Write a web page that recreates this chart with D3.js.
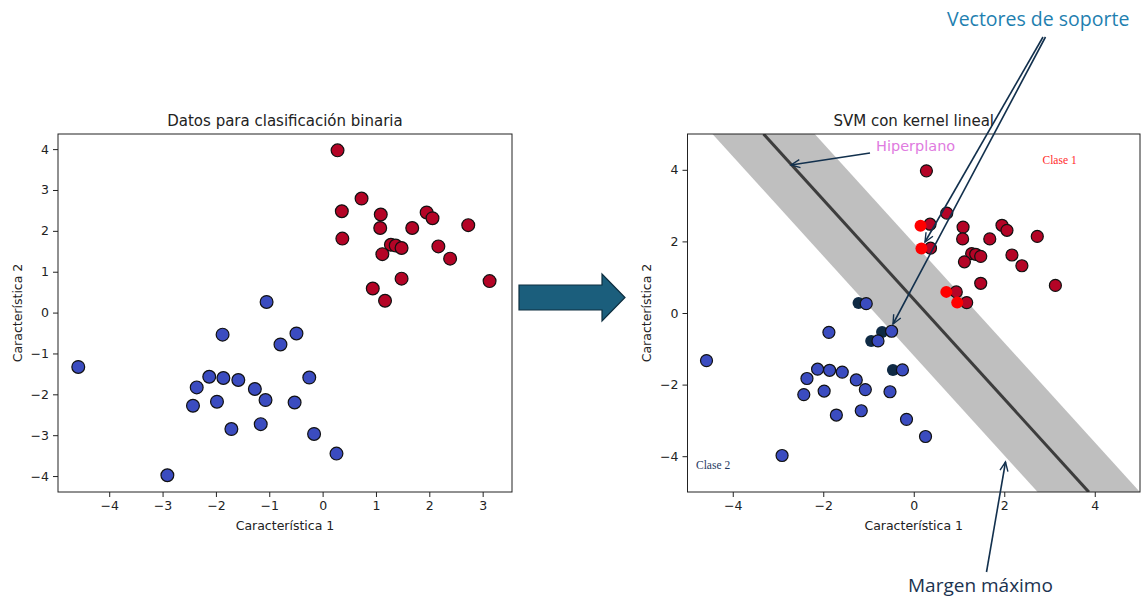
<!DOCTYPE html>
<html>
<head>
<meta charset="utf-8">
<script src="https://cdn.jsdelivr.net/npm/d3@7"></script>
<style>
  body { margin: 0; background: #fff; }
  svg { display: block; }
  .tick text { font-family: "DejaVu Sans", sans-serif; font-size: 12.5px; fill: #222; }
  .tick line { stroke: #222; }
</style>
</head>
<body>
<div id="chart"></div>
<script>
// class 1 (red) and class 2 (blue) points, same data in both panels
const class1X = [0.28, 0.73, 0.36, 1.09, 1.08, 0.37, 1.68, 1.95, 2.06, 2.73, 1.28, 1.37, 1.48, 1.12, 2.17, 2.39, 1.48, 0.94, 1.17, 3.13];
const class1Y = [3.97, 2.79, 2.48, 2.40, 2.07, 1.81, 2.07, 2.45, 2.31, 2.14, 1.66, 1.64, 1.58, 1.43, 1.62, 1.32, 0.83, 0.59, 0.29, 0.77];
const class2X = [-4.58, -1.05, -1.875, -0.49, -0.79, -2.125, -1.86, -1.58, -2.36, -1.27, -0.25, -2.43, -1.98, -1.07, -0.525, -1.71, -1.16, -0.16, 0.26, -2.91];
const class2Y = [-1.33, 0.26, -0.54, -0.51, -0.78, -1.57, -1.60, -1.65, -1.83, -1.87, -1.59, -2.28, -2.18, -2.14, -2.20, -2.85, -2.73, -2.97, -3.45, -3.98];

// highlighted support vectors (right panel)
const svRedX = [0.15, 0.17, 0.72, 0.96];
const svRedY = [2.44, 1.80, 0.59, 0.29];
const svNavyX = [-1.22, -0.70, -0.94, -0.46];
const svNavyY = [0.28, -0.53, -0.78, -1.59];

// hyperplane w.x + b = 0, margin at +-1
const svmW = [0.885, 0.636];
const svmB = -0.243;

const leftXTicks = [-4, -3, -2, -1, 0, 1, 2, 3];
const leftYTicks = [-4, -3, -2, -1, 0, 1, 2, 3, 4];
const rightXTicks = [-4, -2, 0, 2, 4];
const rightYTicks = [-4, -2, 0, 2, 4];

const width = 1141;
const height = 599;

const svg = d3.select("#chart")
  .append("svg")
  .attr("width", width)
  .attr("height", height);

const defs = svg.append("defs");
defs.append("marker")
  .attr("id", "head")
  .attr("viewBox", "-1 -6 12 12")
  .attr("markerWidth", 12)
  .attr("markerHeight", 12)
  .attr("markerUnits", "userSpaceOnUse")
  .attr("refX", 9)
  .attr("refY", 0)
  .attr("orient", "auto")
  .append("path")
  .attr("d", "M0,-4L9,0L0,4")
  .attr("fill", "none")
  .attr("stroke", "#12304d")
  .attr("stroke-width", 1.4);

const pts1 = class1X.map((x, i) => ({x, y: class1Y[i]}));
const pts2 = class2X.map((x, i) => ({x, y: class2Y[i]}));
const svRed = svRedX.map((x, i) => ({x, y: svRedY[i]}));
const svNavy = svNavyX.map((x, i) => ({x, y: svNavyY[i]}));

function panel(opts) {
  const {x, y, xTicks, yTicks, title, id} = opts;
  const g = svg.append("g");
  const [x0, x1] = x.range();
  const [y1, y0] = y.range();

  g.append("clipPath")
    .attr("id", id)
    .append("rect")
    .attr("x", x0).attr("y", y0)
    .attr("width", x1 - x0).attr("height", y1 - y0);

  const plot = g.append("g").attr("clip-path", `url(#${id})`);

  const xAxis = g.append("g")
    .attr("transform", `translate(0,${y1})`)
    .call(d3.axisBottom(x).tickValues(xTicks).tickSize(5).tickPadding(4));
  xAxis.select(".domain").remove();

  const yAxis = g.append("g")
    .attr("transform", `translate(${x0},0)`)
    .call(d3.axisLeft(y).tickValues(yTicks).tickSize(5).tickPadding(4));
  yAxis.select(".domain").remove();

  g.append("text")
    .attr("x", (x0 + x1) / 2)
    .attr("y", 126)
    .attr("text-anchor", "middle")
    .attr("font-family", "DejaVu Sans, sans-serif")
    .attr("font-size", 15)
    .attr("fill", "#222")
    .text(title);

  g.append("text")
    .attr("x", (x0 + x1) / 2)
    .attr("y", 530)
    .attr("text-anchor", "middle")
    .attr("font-family", "DejaVu Sans, sans-serif")
    .attr("font-size", 12.5)
    .attr("fill", "#222")
    .text("Característica 1");

  g.append("text")
    .attr("transform", `translate(${opts.ylabelX},${(y0 + y1) / 2}) rotate(-90)`)
    .attr("text-anchor", "middle")
    .attr("dy", "0.35em")
    .attr("font-family", "DejaVu Sans, sans-serif")
    .attr("font-size", 12.5)
    .attr("fill", "#222")
    .text("Característica 2");

  return {g, plot, frame: () => g.append("rect")
    .attr("x", x0).attr("y", y0)
    .attr("width", x1 - x0).attr("height", y1 - y0)
    .attr("fill", "none")
    .attr("stroke", "#222")
    .attr("stroke-width", 1)};
}

function dots(sel, data, x, y, r, fill, stroke) {
  sel.append("g")
    .selectAll("circle")
    .data(data)
    .join("circle")
    .attr("cx", d => x(d.x))
    .attr("cy", d => y(d.y))
    .attr("r", r)
    .attr("fill", fill)
    .attr("stroke", stroke)
    .attr("stroke-width", stroke === "none" ? 0 : 1.2);
}

// left panel
const xL = d3.scaleLinear().domain([-4.96, 3.55]).range([58, 512]);
const yL = d3.scaleLinear().domain([-4.39, 4.37]).range([492, 134]);
const left = panel({x: xL, y: yL, xTicks: leftXTicks, yTicks: leftYTicks,
  title: "Datos para clasificación binaria", id: "clipL", ylabelX: 17.5});
dots(left.plot, pts2, xL, yL, 6.4, "#3b4cc0", "#111");
dots(left.plot, pts1, xL, yL, 6.4, "#b40426", "#111");
left.frame();

// right panel
const xR = d3.scaleLinear().domain([-5, 5]).range([687.5, 1140]);
const yR = d3.scaleLinear().domain([-5, 5]).range([492, 134]);
const right = panel({x: xR, y: yR, xTicks: rightXTicks, yTicks: rightYTicks,
  title: "SVM con kernel lineal", id: "clipR", ylabelX: 646.5});

const lineY = (xv, level) => (level - svmB - svmW[0] * xv) / svmW[1];
const xs = [-8, 8];
const band = xs.map(v => [xR(v), yR(lineY(v, 1))])
  .concat(xs.slice().reverse().map(v => [xR(v), yR(lineY(v, -1))]));

right.plot.append("path")
  .attr("d", d3.line()(band) + "Z")
  .attr("fill", "#bfbfbf");

right.plot.append("path")
  .attr("d", d3.line()([[xR(-3.32), yR(lineY(-3.32, 0))], [xR(3.87), yR(lineY(3.87, 0))]]))
  .attr("stroke", "#3d3d3d")
  .attr("stroke-width", 3);

dots(right.plot, svNavy, xR, yR, 6, "#0f2a44", "none");
dots(right.plot, pts2, xR, yR, 6, "#3b4cc0", "#111");
dots(right.plot, pts1, xR, yR, 6, "#b40426", "#111");
dots(right.plot, svRed, xR, yR, 6, "#ff0000", "none");
right.frame();

right.g.append("text")
  .attr("x", 1042.5).attr("y", 164)
  .attr("font-family", "Liberation Serif, serif")
  .attr("font-size", 11.5)
  .attr("fill", "#ff2a2a")
  .text("Clase 1");

right.g.append("text")
  .attr("x", 696).attr("y", 469)
  .attr("font-family", "Liberation Serif, serif")
  .attr("font-size", 11.5)
  .attr("fill", "#1f3a5f")
  .text("Clase 2");

// annotations
const ann = svg.append("g");

ann.append("text")
  .attr("x", 876).attr("y", 151)
  .attr("font-family", "DejaVu Sans, sans-serif")
  .attr("font-size", 14.5)
  .attr("fill", "#e07be0")
  .text("Hiperplano");

const arrows = [
  [[870, 153], [791, 165]],
  [[1043, 37], [925, 242]],
  [[1045.5, 37], [893, 324]],
  [[986.5, 572], [1005.5, 462]]
];
ann.selectAll("path.arrow")
  .data(arrows)
  .join("path")
  .attr("class", "arrow")
  .attr("d", d => d3.line()(d))
  .attr("fill", "none")
  .attr("stroke", "#12304d")
  .attr("stroke-width", 1.6)
  .attr("marker-end", "url(#head)");

ann.append("text")
  .attr("x", 947).attr("y", 26)
  .attr("font-family", "Open Sans, sans-serif")
  .attr("font-size", 19.5)
  .attr("fill", "#1f7fb0")
  .text("Vectores de soporte");

ann.append("text")
  .attr("x", 908).attr("y", 592)
  .attr("font-family", "Open Sans, sans-serif")
  .attr("font-size", 19)
  .attr("fill", "#1b3350")
  .text("Margen máximo");

// big arrow between panels
ann.append("path")
  .attr("d", "M519,285L602,285L602,274L625,297.5L602,321L602,310L519,310Z")
  .attr("fill", "#1b5e7c")
  .attr("stroke", "#0e2f40")
  .attr("stroke-width", 1.2);
</script>
</body>
</html>
